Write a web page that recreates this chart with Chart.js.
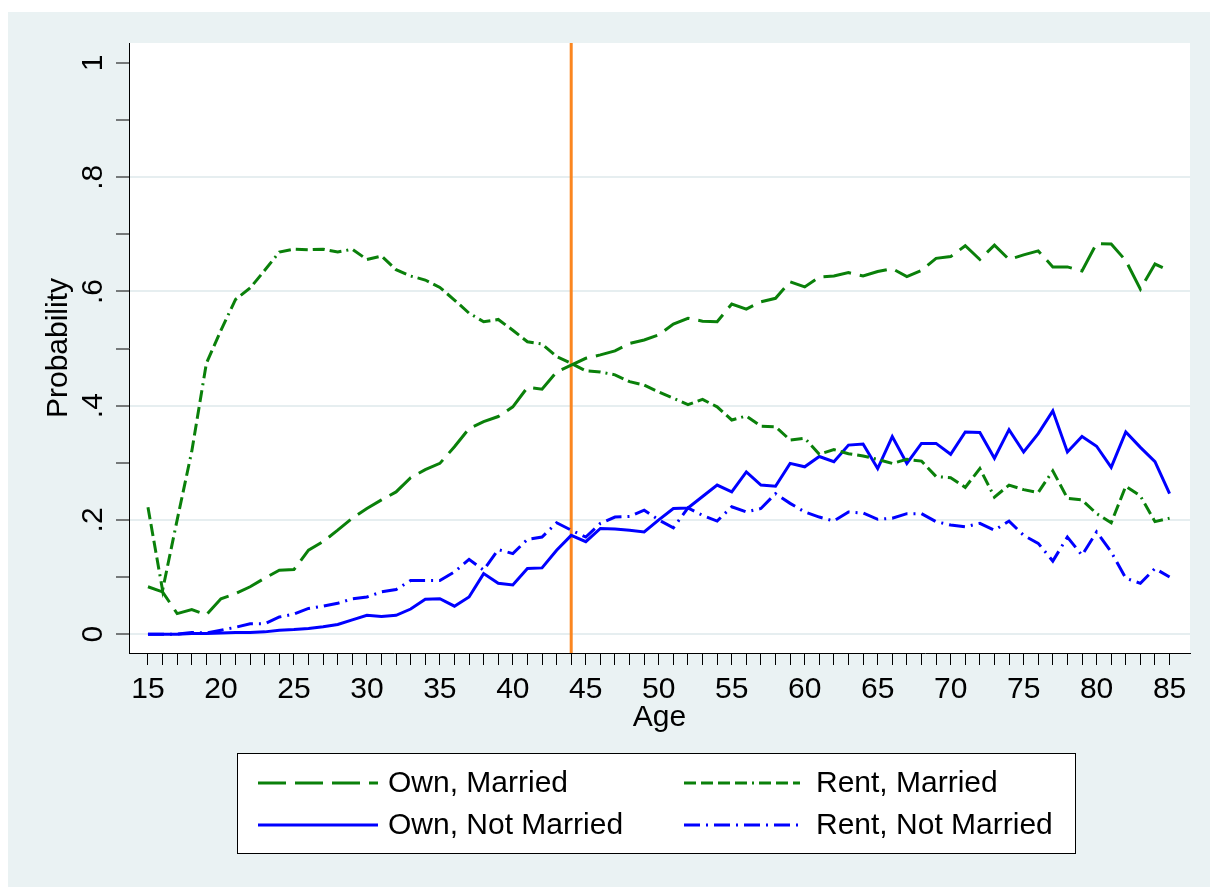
<!DOCTYPE html>
<html>
<head>
<meta charset="utf-8">
<title>Housing tenure and marital status by age</title>
<script src="https://cdn.jsdelivr.net/npm/chart.js@4/dist/chart.umd.min.js"></script>
<style>
  html, body { margin: 0; padding: 0; background: #ffffff; }
  #frame { position: absolute; left: 8px; top: 12px; right: 0; bottom: 0; width: 1202px; height: 875px; background: #eaf2f3; }
  #chart { position: absolute; left: 0; top: 0; }
</style>
</head>
<body>
<div id="frame"></div>
<canvas id="chart" width="1210" height="887"></canvas>
<script>
// Age in years (x axis)
const ages = [15,16,17,18,19,20,21,22,23,24,25,26,27,28,29,30,31,32,33,34,35,36,37,38,39,40,
  41,42,43,44,45,46,47,48,49,50,51,52,53,54,55,56,57,58,59,60,61,62,63,64,65,66,67,68,69,70,
  71,72,73,74,75,76,77,78,79,80,81,82,83,84,85];

// Probability of each tenure / marital status, by age
const ownMarried = [0.083,0.074,0.036,0.043,0.034,0.062,0.071,0.083,0.098,0.112,0.113,0.147,0.162,0.182,0.203,0.220,
  0.235,0.249,0.274,0.288,0.299,0.328,0.360,0.372,0.381,0.398,0.432,0.429,0.459,0.471,0.483,0.489,0.496,0.509,
  0.515,0.524,0.543,0.553,0.548,0.547,0.578,0.569,0.582,0.588,0.617,0.608,0.625,0.627,0.633,0.627,0.635,0.640,
  0.626,0.637,0.658,0.661,0.680,0.656,0.681,0.656,0.664,0.671,0.643,0.643,0.636,0.684,0.683,0.654,0.604,0.648,0.636];

const rentMarried = [0.222,0.077,0.200,0.320,0.474,0.532,0.586,0.606,0.637,0.669,0.674,0.673,0.674,0.669,0.674,0.656,
  0.662,0.638,0.627,0.620,0.607,0.585,0.562,0.547,0.551,0.532,0.512,0.508,0.486,0.474,0.461,0.459,0.454,0.442,
  0.436,0.424,0.413,0.402,0.411,0.398,0.375,0.382,0.364,0.363,0.340,0.343,0.315,0.323,0.316,0.312,0.306,0.299,
  0.306,0.303,0.276,0.274,0.257,0.290,0.240,0.261,0.253,0.248,0.286,0.238,0.235,0.211,0.195,0.259,0.242,0.197,0.203];

const ownNotMarried = [0.000,0.000,0.000,0.001,0.001,0.002,0.003,0.003,0.004,0.007,0.008,0.010,0.013,0.017,0.025,0.033,
  0.031,0.033,0.044,0.061,0.062,0.049,0.065,0.106,0.089,0.086,0.115,0.116,0.147,0.173,0.162,0.185,0.184,0.182,
  0.179,0.200,0.220,0.221,0.241,0.261,0.249,0.284,0.261,0.259,0.299,0.293,0.311,0.302,0.331,0.333,0.290,0.346,
  0.299,0.334,0.334,0.315,0.354,0.353,0.308,0.358,0.319,0.351,0.391,0.319,0.346,0.329,0.292,0.354,0.327,0.302,0.246];

const rentNotMarried = [0.000,0.000,0.000,0.003,0.002,0.007,0.012,0.018,0.018,0.030,0.035,0.045,0.049,0.054,0.062,0.065,
  0.074,0.078,0.094,0.094,0.094,0.109,0.131,0.112,0.148,0.141,0.166,0.170,0.195,0.182,0.170,0.194,0.205,0.206,
  0.217,0.200,0.186,0.221,0.208,0.198,0.223,0.214,0.220,0.246,0.229,0.214,0.205,0.198,0.214,0.212,0.201,0.203,
  0.211,0.211,0.197,0.191,0.188,0.194,0.182,0.198,0.173,0.159,0.128,0.170,0.138,0.179,0.144,0.098,0.089,0.115,0.100];

const seriesLabels = ['Own, Married', 'Rent, Married', 'Own, Not Married', 'Rent, Not Married'];

// Axis ticks and labels
const xLabelEvery = 5;
const yTickValues = [0,0.1,0.2,0.3,0.4,0.5,0.6,0.7,0.8,0.9,1];
const yLabelValues = [0,0.2,0.4,0.6,0.8,1];
const yTickLabels = ['0','.2','.4','.6','.8','1'];
const yGridValues = [0,0.2,0.4,0.6,0.8];

// Reference age marked with a vertical line
const cutoffAge = 44;

const FONT = 'Liberation Sans';
const GREEN = '#0a800a';
const BLUE = '#0000ff';

function toPoints(values) {
  return ages.map((a, i) => ({ x: a, y: values[i] }));
}

const lineStyle = { borderWidth: 3, pointRadius: 0, tension: 0, fill: false, borderJoinStyle: 'miter' };

const datasets = [
  Object.assign({ label: seriesLabels[0], data: toPoints(ownMarried), borderColor: GREEN, borderDash: [28, 9] }, lineStyle),
  Object.assign({ label: seriesLabels[1], data: toPoints(rentMarried), borderColor: GREEN, borderDash: [12, 5, 12, 5, 12, 5, 12, 5, 2, 5] }, lineStyle),
  Object.assign({ label: seriesLabels[2], data: toPoints(ownNotMarried), borderColor: BLUE, borderDash: [] }, lineStyle),
  Object.assign({ label: seriesLabels[3], data: toPoints(rentNotMarried), borderColor: BLUE, borderDash: [16, 6, 2, 6] }, lineStyle)
];

// White plot region behind the data
const plotBackground = {
  id: 'plotBackground',
  beforeDraw(chart) {
    const { ctx, chartArea: a } = chart;
    ctx.save();
    ctx.fillStyle = '#ffffff';
    ctx.fillRect(a.left, a.top, a.right - a.left, a.bottom - a.top);
    ctx.restore();
  }
};

// Vertical marker at the reference age
const cutoffLine = {
  id: 'cutoffLine',
  beforeDatasetsDraw(chart) {
    const { ctx, chartArea: a, scales } = chart;
    const x = scales.x.getPixelForValue(cutoffAge);
    ctx.save();
    ctx.strokeStyle = '#fb8620';
    ctx.lineWidth = 3;
    ctx.beginPath();
    ctx.moveTo(x, a.top);
    ctx.lineTo(x, a.bottom);
    ctx.stroke();
    ctx.restore();
  }
};

// Rotated value labels on the y axis
const yAxisLabels = {
  id: 'yAxisLabels',
  afterDraw(chart) {
    const { ctx, scales } = chart;
    const ys = scales.y;
    ctx.save();
    ctx.fillStyle = '#000';
    ctx.font = '30px "' + FONT + '"';
    ctx.textAlign = 'center';
    ctx.textBaseline = 'alphabetic';
    yLabelValues.forEach((v, i) => {
      const y = ys.getPixelForValue(v);
      ctx.save();
      ctx.translate(ys.right - 27, y);
      ctx.rotate(-Math.PI / 2);
      ctx.fillText(yTickLabels[i], 0, 0);
      ctx.restore();
    });
    ctx.restore();
  }
};

// Boxed two-column legend below the plot
const boxLegend = {
  id: 'boxLegend',
  afterDraw(chart) {
    const { ctx } = chart;
    const box = { left: 237.5, top: 753.5, width: 838, height: 100 };
    const cols = [{ line: 258, lineEnd: 378, text: 388 }, { line: 684, lineEnd: 800, text: 816 }];
    const rows = [783, 825];
    ctx.save();
    ctx.fillStyle = '#ffffff';
    ctx.fillRect(box.left, box.top, box.width, box.height);
    ctx.strokeStyle = '#000';
    ctx.lineWidth = 1;
    ctx.strokeRect(box.left, box.top, box.width, box.height);
    ctx.font = '30px "' + FONT + '"';
    ctx.textBaseline = 'middle';
    ctx.textAlign = 'left';
    chart.data.datasets.forEach((ds, i) => {
      const c = cols[i % 2];
      const y = rows[Math.floor(i / 2)];
      ctx.strokeStyle = ds.borderColor;
      ctx.lineWidth = ds.borderWidth;
      ctx.setLineDash(ds.borderDash || []);
      ctx.beginPath();
      ctx.moveTo(c.line, y);
      ctx.lineTo(c.lineEnd, y);
      ctx.stroke();
      ctx.setLineDash([]);
      ctx.fillStyle = '#000';
      ctx.fillText(ds.label, c.text, y + 1);
    });
    ctx.restore();
  }
};

new Chart(document.getElementById('chart'), {
  type: 'line',
  data: { datasets },
  plugins: [plotBackground, cutoffLine, yAxisLabels, boxLegend],
  options: {
    responsive: false,
    animation: false,
    events: [],
    layout: { padding: { top: 43, right: 20, bottom: 144, left: 0 } },
    plugins: { legend: { display: false }, tooltip: { enabled: false } },
    scales: {
      x: {
        type: 'linear',
        position: 'bottom',
        min: 13.7,
        max: 86.4,
        afterBuildTicks(scale) { scale.ticks = ages.map(v => ({ value: v })); },
        afterFit(scale) { scale.height = 90; },
        ticks: {
          autoSkip: false,
          maxRotation: 0,
          padding: 7,
          color: '#000',
          font: { family: FONT, size: 30 },
          callback: v => (v % xLabelEvery === 0 ? String(v) : '')
        },
        grid: { drawOnChartArea: false, drawTicks: true, tickLength: 12, tickColor: '#000', tickWidth: 1 },
        border: { display: true, color: '#000', width: 1 },
        title: { display: true, text: 'Age', color: '#000', font: { family: FONT, size: 30 }, padding: { top: 0, bottom: 7 } }
      },
      y: {
        type: 'linear',
        position: 'left',
        min: -0.033,
        max: 1.035,
        afterBuildTicks(scale) { scale.ticks = yTickValues.map(v => ({ value: v })); },
        afterFit(scale) { scale.width = 129; },
        ticks: { display: false },
        grid: {
          drawOnChartArea: true,
          drawTicks: true,
          tickLength: 13,
          tickColor: '#000',
          tickWidth: 1,
          lineWidth: 2,
          color: ctx => (yGridValues.some(g => Math.abs(g - ctx.tick.value) < 1e-9) ? '#e6eef0' : 'rgba(0,0,0,0)')
        },
        border: { display: true, color: '#000', width: 1 },
        title: { display: true, text: 'Probability', color: '#000', font: { family: FONT, size: 30 }, padding: { top: 41, bottom: 0 } }
      }
    }
  }
});
</script>
</body>
</html>
